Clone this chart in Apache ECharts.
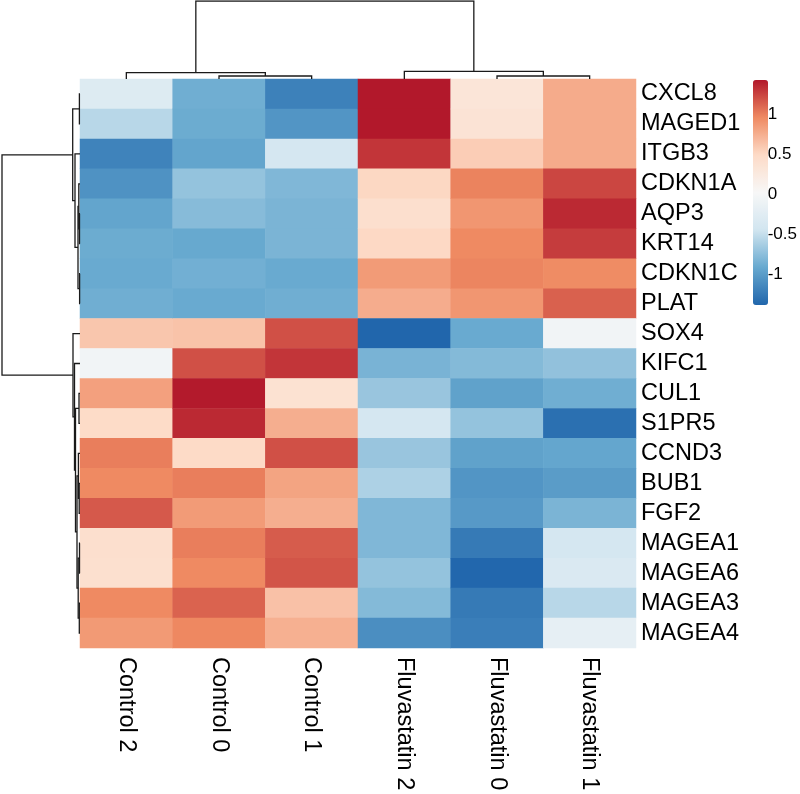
<!DOCTYPE html>
<html>
<head>
<meta charset="utf-8">
<script src="https://cdn.jsdelivr.net/npm/echarts@6/dist/echarts.min.js"></script>
<style>
html,body{margin:0;padding:0;background:#fff;}
#chart{width:800px;height:794px;}
</style>
</head>
<body>
<div id="chart"></div>
<script>
// ---- data ----
const rowLabels = ['CXCL8','MAGED1','ITGB3','CDKN1A','AQP3','KRT14','CDKN1C','PLAT','SOX4','KIFC1','CUL1','S1PR5','CCND3','BUB1','FGF2','MAGEA1','MAGEA6','MAGEA3','MAGEA4'];
const colLabels = ['Control 2','Control 0','Control 1','Fluvastatin 2','Fluvastatin 0','Fluvastatin 1'];

const control2 = [-0.30,-0.56,-1.19,-1.08,-0.95,-0.90,-0.91,-0.88,0.61,-0.05,0.83,0.48,1.01,0.96,1.16,0.42,0.41,0.96,0.87];
const control0 = [-0.88,-0.90,-0.95,-0.72,-0.78,-0.92,-0.87,-0.91,0.63,1.20,1.42,1.36,0.49,1.01,0.86,1.01,0.96,1.12,0.97];
const control1 = [-1.20,-1.06,-0.40,-0.81,-0.83,-0.83,-0.91,-0.88,1.20,1.31,0.38,0.75,1.20,0.81,0.75,1.15,1.18,0.64,0.74];
const fluva2   = [1.43,1.43,1.31,0.51,0.42,0.50,0.86,0.76,-1.39,-0.84,-0.70,-0.40,-0.70,-0.61,-0.81,-0.81,-0.72,-0.79,-1.11];
const fluva0   = [0.32,0.35,0.57,0.99,0.89,0.96,0.98,0.89,-0.91,-0.79,-0.97,-0.72,-0.97,-1.06,-1.03,-1.25,-1.38,-1.25,-1.22];
const fluva1   = [0.77,0.77,0.77,1.24,1.36,1.28,0.95,1.13,-0.05,-0.73,-0.88,-1.32,-0.94,-1.01,-0.83,-0.40,-0.34,-0.56,-0.19];
const columns = [control2, control0, control1, fluva2, fluva0, fluva1];

const legendTicks = [-1, -0.5, 0, 0.5, 1];
const colorMin = -1.39, colorMax = 1.43;
const palette = ['#2166AC','#67A9CF','#D1E5F0','#F7F7F7','#FDDBC7','#EF8A62','#B2182B'];

// dendrogram merges: [childA, childB, height]; numbers = leaf index, 'mK' = merge K
const rowMerges = [
  [0, 1, 0.6], [4, 5, 0.5], [3, 'm1', 1.2], [6, 7, 0.4], ['m2', 'm3', 2.0],
  [2, 'm4', 5.0], ['m0', 'm5', 7.3], [10, 11, 1.0], [13, 14, 0.8], [12, 'm8', 1.6],
  [15, 16, 0.5], [17, 18, 0.7], ['m10', 'm11', 1.8], ['m9', 'm12', 3.0], ['m7', 'm13', 4.5],
  [9, 'm14', 5.5], [8, 'm15', 7.0], ['m6', 'm16', 78]
];
const colMerges = [
  [1, 2, 3.0], [0, 'm0', 6.3], [4, 5, 3.0], [3, 'm2', 7.7], ['m1', 'm3', 78]
];

// ---- build ----
function treeSegments(merges) {
  const pos = [], ht = [], segs = [];
  function get(ref) {
    if (typeof ref === 'number') return [ref + 0.5, 0];
    const k = +ref.slice(1);
    return [pos[k], ht[k]];
  }
  merges.forEach((m, i) => {
    const A = get(m[0]), B = get(m[1]), h = m[2];
    pos[i] = (A[0] + B[0]) / 2; ht[i] = h;
    segs.push([[A[0], A[1]], [A[0], h], [B[0], h], [B[0], B[1]]]);
  });
  return segs;
}
const colSegs = treeSegments(colMerges).map(s => ({coords: s}));
const rowSegs = treeSegments(rowMerges).map(s => ({coords: s.map(p => [p[1], p[0]])}));

const heatData = [];
columns.forEach((col, ci) => col.forEach((v, ri) => heatData.push([ci, ri, v])));

const font = 'Liberation Sans, Arial, Helvetica, sans-serif';
const chart = echarts.init(document.getElementById('chart'), null, {renderer: 'canvas'});
const hidden = {show: false};
chart.setOption({
  backgroundColor: '#fff',
  animation: false,
  grid: [
    {left: 80, top: 79, width: 556, height: 569},   // heatmap
    {left: 80, top: 1, width: 556, height: 78},     // column dendrogram
    {left: 2, top: 79, width: 78, height: 569},     // row dendrogram
    {left: 753, top: 80, width: 15, height: 225}    // legend ticks
  ],
  xAxis: [
    {gridIndex: 0, type: 'category', data: colLabels, position: 'bottom',
     axisLine: hidden, axisTick: hidden, splitLine: hidden,
     axisLabel: {rotate: -90, fontSize: 23.5, color: '#000', fontFamily: font, margin: 9, interval: 0}},
    {gridIndex: 1, type: 'value', min: 0, max: 6, show: false},
    {gridIndex: 2, type: 'value', min: 0, max: 78, inverse: true, show: false},
    {gridIndex: 3, type: 'value', min: 0, max: 1, show: false}
  ],
  yAxis: [
    {gridIndex: 0, type: 'category', data: rowLabels, inverse: true, position: 'right',
     axisLine: hidden, axisTick: hidden, splitLine: hidden,
     axisLabel: {fontSize: 23.5, color: '#000', fontFamily: font, margin: 5, interval: 0}},
    {gridIndex: 1, type: 'value', min: 0, max: 78, show: false},
    {gridIndex: 2, type: 'value', min: 0, max: 19, inverse: true, show: false},
    {gridIndex: 3, type: 'value', min: colorMin, max: colorMax, position: 'right',
     axisLine: hidden, axisTick: hidden, splitLine: hidden,
     axisLabel: {customValues: legendTicks, fontSize: 17, color: '#000', fontFamily: font, margin: 5}}
  ],
  visualMap: {
    type: 'continuous', seriesIndex: 0, min: colorMin, max: colorMax,
    calculable: false, realtime: false, showLabel: false, text: null,
    left: 753, top: 80, itemWidth: 15, itemHeight: 225, padding: 0,
    inRange: {color: palette}
  },
  series: [
    {type: 'heatmap', xAxisIndex: 0, yAxisIndex: 0, data: heatData,
     itemStyle: {borderWidth: 0}, emphasis: {disabled: true}, silent: true},
    {type: 'lines', coordinateSystem: 'cartesian2d', polyline: true, xAxisIndex: 1, yAxisIndex: 1,
     data: colSegs, silent: true, lineStyle: {color: '#1a1a1a', width: 1.3, opacity: 1}},
    {type: 'lines', coordinateSystem: 'cartesian2d', polyline: true, xAxisIndex: 2, yAxisIndex: 2,
     data: rowSegs, silent: true, lineStyle: {color: '#1a1a1a', width: 1.3, opacity: 1}}
  ]
});
</script>
</body>
</html>
